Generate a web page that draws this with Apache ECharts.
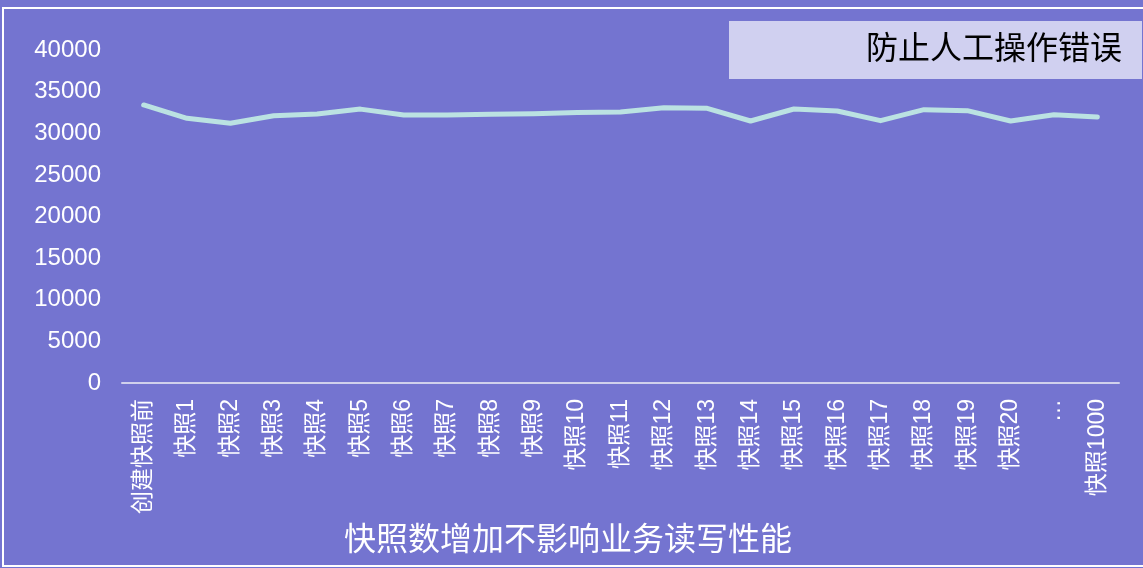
<!DOCTYPE html>
<html>
<head>
<meta charset="utf-8">
<script src="https://cdn.jsdelivr.net/npm/echarts@6/dist/echarts.min.js"></script>
<style>
html,body{margin:0;padding:0;background:#7474D0;}
#chart{width:1143px;height:568px;}
</style>
</head>
<body>
<div id="chart"></div>
<script>
var categories = ['创建快照前','快照1','快照2','快照3','快照4','快照5','快照6','快照7','快照8','快照9','快照10','快照11','快照12','快照13','快照14','快照15','快照16','快照17','快照18','快照19','快照20','…','快照1000'];
var values = [33400,31800,31200,32100,32300,32900,32200,32200,32270,32350,32500,32550,33070,33000,31470,32910,32670,31510,32830,32710,31470,32230,31950];
var yTicks = {min:0, max:40000, interval:5000};
var seriesName = '防止人工操作错误';
var xAxisTitle = '快照数增加不影响业务读写性能';

var font = '"Liberation Sans", Arial, "Noto Sans CJK SC", sans-serif';
var chart = echarts.init(document.getElementById('chart'));
chart.setOption({
  backgroundColor:'#7474D0',
  animation:false,
  title:[{
    text: seriesName,
    right: 1, top: 21,
    backgroundColor:'#D0D0F0',
    padding:[12, 20, 12, 137],
    textStyle:{color:'#000000', fontSize:32, fontWeight:'normal', fontFamily:font, lineHeight:34}
  },{
    text: xAxisTitle,
    left: 344, top: 525,
    padding:0,
    textStyle:{color:'#ffffff', fontSize:32, fontWeight:'normal', fontFamily:font}
  }],
  graphic:[{
    type:'rect', silent:true, z:-1,
    shape:{x:3, y:8, width:1150, height:558},
    style:{fill:'none', stroke:'#ffffff', lineWidth:2}
  }],
  grid:{left:122, right:24, top:50, bottom:185},
  xAxis:{
    type:'category', data:categories, boundaryGap:true,
    axisLine:{show:true, lineStyle:{color:'#D0D0EC', width:2}},
    axisTick:{show:false},
    axisLabel:{rotate:90, interval:0, color:'#ffffff', fontSize:23, fontFamily:font, margin:16}
  },
  yAxis:{
    type:'value', min:yTicks.min, max:yTicks.max, interval:yTicks.interval,
    splitLine:{show:false}, axisLine:{show:false}, axisTick:{show:false},
    axisLabel:{color:'#ffffff', fontSize:24, fontFamily:font, margin:21,
      formatter:function(v){return String(v);}}
  },
  series:[{
    name: seriesName, type:'line', data: values,
    symbol:'none', smooth:false,
    lineStyle:{color:'#BBE2E2', width:5, cap:'round', join:'round'}
  }]
});
</script>
</body>
</html>
